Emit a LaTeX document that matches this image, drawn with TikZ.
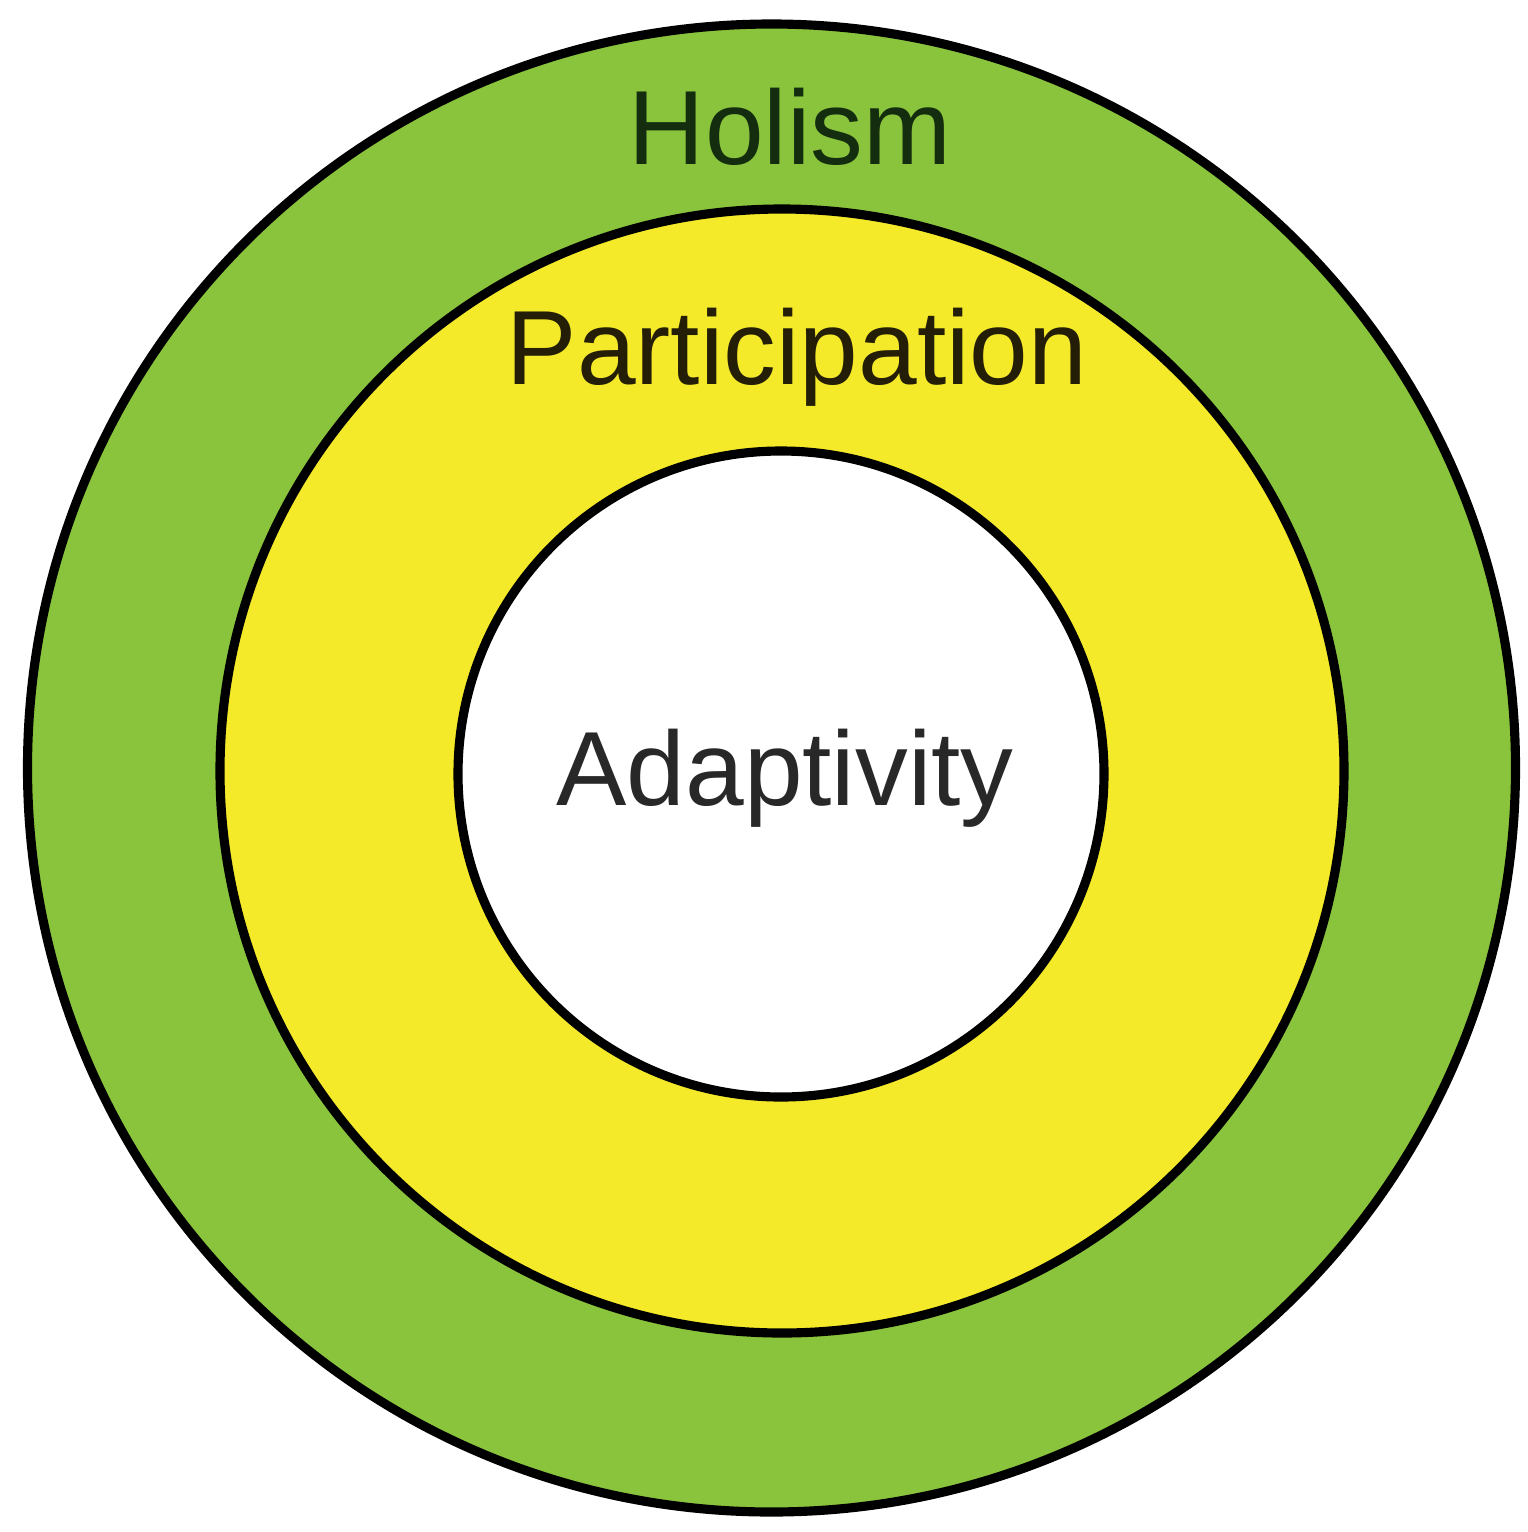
\documentclass[tikz,border=0pt]{standalone}
\usepackage{fontspec}
\setmainfont{Liberation Sans}
\definecolor{holismgreen}{RGB}{138,196,60}
\definecolor{partyellow}{RGB}{245,234,42}
\definecolor{holismtext}{RGB}{20,45,15}
\definecolor{parttext}{RGB}{35,30,5}
\definecolor{adapttext}{RGB}{40,40,40}
\begin{document}
\begin{tikzpicture}[
		ring/.style={circle, draw=black, line width=2.6pt, inner sep=0pt},
		label/.style={anchor=base, font=\fontsize{30}{30}\selectfont}
	]
			\useasboundingbox	(0, 0) rectangle (15.28, -15.32);

			\node[ring, fill=holismgreen, minimum size=14.88cm]	(outer) at (7.715, -7.68) {};
			\node[ring, fill=partyellow, minimum size=11.24cm]	(middle) at (7.82, -7.71) {};
			\node[ring, fill=white, minimum size=6.46cm]		(inner) at (7.81, -7.74) {};

			\node[label, text=holismtext]	(holism) at (7.90, -1.64) {Holism};
			\node[label, text=parttext]		(participation) at (7.97, -3.84) {Participation};
			\node[label, text=adapttext]	(adaptivity) at (7.85, -8.05) {Adaptivity};
		\end{tikzpicture}
\end{document}
